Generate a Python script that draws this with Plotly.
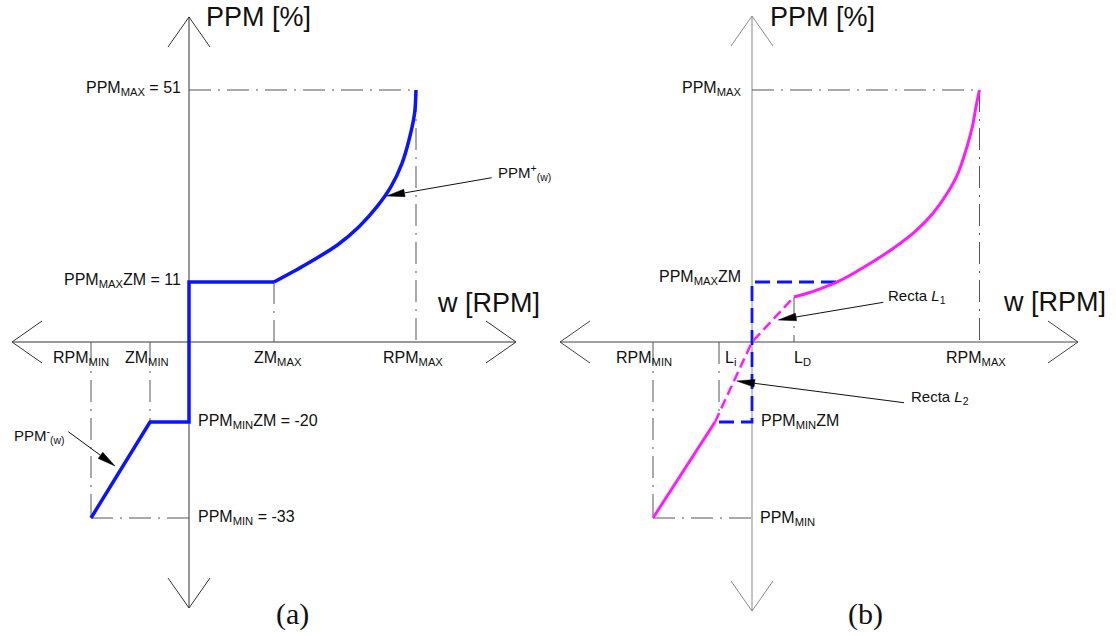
import numpy as np
import plotly.graph_objects as go

# ---------------- schematic values (diagram units, origin = axis crossing) -------------
# Panel (a)
a_speed_names = ["RPM_MIN", "ZM_MIN", "ZM_MAX", "RPM_MAX"]
a_speed_x = [-98, -39, 85, 227]
a_ppm_names = ["PPM_MAX", "PPM_MAXZM", "PPM_MINZM", "PPM_MIN"]
a_ppm_y = [252, 60, -80, -176]
a_curve_x = [85, 116, 148.4, 170, 188, 202, 213, 220, 225.6, 227]
a_curve_y = [60, 77, 97, 115.3, 135.3, 155.3, 178.7, 202, 228.7, 252]
a_axis_x = [-177, 327]
a_axis_y = [-266, 325]

# Panel (b)
b_speed_names = ["RPM_MIN", "L_i", "L_D", "RPM_MAX"]
b_speed_x = [-99, -33, 42, 227.5]
b_ppm_y = [252, 60, -80, -176]
b_curve_x = [42, 55.3, 69.6, 85.8, 112.7, 141.4, 163, 181, 195.2, 206, 215, 220.4, 224, 227.5]
b_curve_y = [45, 48.7, 53.7, 60.3, 75.3, 93.7, 110.3, 128.7, 148.7, 168.7, 195.3, 215.3, 235.3, 252]
b_l2_x = [-37, 0]      # Recta L2 end points
b_l2_y = [-80, 0]
b_l1_x = [0, 42]       # Recta L1 end points
b_l1_y = [0, 45]
b_rect_x = [84, 0, 0, -37]
b_rect_y = [60, 60, -80, -80]
b_axis_x = [-192, 326]
b_axis_y = [-269, 326]

# ---------------- styles ----------------
BLUE = "#0a14ff"
MAGENTA = "#ff1aff"
GUIDE = "#555555"
DASHDOT = "22px,7px,2px,7px"
SANS = "Liberation Sans, Arial, sans-serif"
SERIF = "Liberation Serif, Times New Roman, serif"

fig = go.Figure()


def line(xs, ys, ax, color, width=1.0, dash=None, shape="linear"):
    xa, ya = ax
    fig.add_trace(go.Scatter(x=xs, y=ys, mode="lines", xaxis=xa, yaxis=ya,
                             line=dict(color=color, width=width, dash=dash, shape=shape,
                                       smoothing=0.8), hoverinfo="skip"))


def axis_arrows(axx, axy, ax, colx, coly):
    line(axx, [0, 0], ax, colx, 1)
    line([0, 0], axy, ax, coly, 1)
    L, W = 30, 21
    xs, ys = [], []
    for tip, u in [((axx[0], 0), (-1, 0)), ((axx[1], 0), (1, 0)),
                   ((0, axy[1]), (0, 1)), ((0, axy[0]), (0, -1))]:
        n = (-u[1], u[0])
        bx, by = tip[0] - u[0] * L, tip[1] - u[1] * L
        xs += [bx + n[0] * W, tip[0], bx - n[0] * W, None]
        ys += [by + n[1] * W, tip[1], by - n[1] * W, None]
    line(xs[:8], ys[:8], ax, colx, 1)
    line(xs[8:], ys[8:], ax, coly, 1)


def pointer(tail, tip, ax, head_len=18, half_w=3.8):
    xa, ya = ax
    t = np.array(tail, float)
    p = np.array(tip, float)
    u = (p - t) / np.linalg.norm(p - t)
    n = np.array([-u[1], u[0]])
    base = p - u * head_len
    line([t[0], base[0]], [t[1], base[1]], ax, "#111111", 1)
    tri = [p, base + n * half_w, base - n * half_w, p]
    fig.add_trace(go.Scatter(x=[q[0] for q in tri], y=[q[1] for q in tri], mode="lines",
                             fill="toself", fillcolor="#000000", xaxis=xa, yaxis=ya,
                             line=dict(color="#000000", width=0.5), hoverinfo="skip"))


def label(text, x, y, ax, xanchor="left", size=16, family=SANS):
    xa, ya = ax
    fig.add_annotation(text=text, x=x, y=y, xref=xa, yref=ya, xanchor=xanchor,
                       yanchor="middle", showarrow=False,
                       font=dict(family=family, size=size, color="#111111"))


A = ("x", "y")
B = ("x2", "y2")

# ---------------- panel (a) ----------------
rpm_min, zm_min, zm_max, rpm_max = a_speed_x
p_max, p_maxzm, p_minzm, p_min = a_ppm_y
axis_arrows(a_axis_x, a_axis_y, A, "#333333", "#333333")
line([0, rpm_max], [p_max, p_max], A, GUIDE, 1, DASHDOT)
line([rpm_max, rpm_max], [p_max, 0], A, GUIDE, 1, DASHDOT)
line([zm_max, zm_max], [p_maxzm, 0], A, GUIDE, 1, DASHDOT)
line([rpm_min, rpm_min], [0, p_min], A, GUIDE, 1, DASHDOT)
line([zm_min, zm_min], [0, p_minzm], A, GUIDE, 1, DASHDOT)
line([rpm_min, 0], [p_min, p_min], A, GUIDE, 1, DASHDOT)
line([rpm_min, zm_min, 0, 0, zm_max], [p_min, p_minzm, p_minzm, p_maxzm, p_maxzm], A, BLUE, 3.5)
line(a_curve_x, a_curve_y, A, BLUE, 3.5, shape="spline")
pointer((302.7, 164.3), (197.7, 146), A)
pointer((-120.7, -89.7), (-74, -124), A)

label("PPM [%]", 15, 325, A, size=27)
label("w [RPM]", 246, 39, A, size=27)
label("PPM<sub>MAX</sub> = 51", -6, p_max + 2, A, "right")
label("PPM<sub>MAX</sub>ZM = 11", -6, p_maxzm + 2, A, "right")
label("PPM<sub>MIN</sub>ZM = -20", 7, p_minzm + 1, A)
label("PPM<sub>MIN</sub> = -33", 7, p_min + 1, A)
label("RPM<sub>MIN</sub>", rpm_min - 10, -16, A, "center")
label("ZM<sub>MIN</sub>", zm_min - 3, -16, A, "center")
label("ZM<sub>MAX</sub>", zm_max + 4, -16, A, "center")
label("RPM<sub>MAX</sub>", rpm_max - 3, -16, A, "center")
label("PPM<sup>+</sup><sub>(w)</sub>", 307, 170, A, size=15)
label("PPM<sup>-</sup><sub>(w)</sub>", -177, -93, A, size=15)
label("(a)", 103, -272, A, "center", size=30, family=SERIF)

# ---------------- panel (b) ----------------
brpm_min, l_i, l_d, brpm_max = b_speed_x
q_max, q_maxzm, q_minzm, q_min = b_ppm_y
axis_arrows(b_axis_x, b_axis_y, B, "#444444", "#888888")
line([0, brpm_max], [q_max, q_max], B, GUIDE, 1, DASHDOT)
line([brpm_max, brpm_max], [q_max, 0], B, GUIDE, 1, DASHDOT)
line([l_d, l_d], [b_l1_y[1], 0], B, GUIDE, 1, DASHDOT)
line([l_i, l_i], [0, l_i * (b_l2_y[0] / b_l2_x[0])], B, GUIDE, 1, DASHDOT)
line([brpm_min, brpm_min], [0, q_min], B, GUIDE, 1, DASHDOT)
line([brpm_min, 0], [q_min, q_min], B, GUIDE, 1, DASHDOT)
line(b_rect_x, b_rect_y, B, BLUE, 2.8, dash="15px,7px")
line([brpm_min, b_l2_x[0]], [q_min, b_l2_y[0]], B, MAGENTA, 3)
line(b_l2_x + b_l1_x[1:], b_l2_y + b_l1_y[1:], B, MAGENTA, 2.5, dash="10px,5px")
line(b_curve_x, b_curve_y, B, MAGENTA, 3, shape="spline")
pointer((131.3, 39.7), (26.3, 22), B)
pointer((152, -60.7), (-15.3, -39), B)

label("PPM [%]", 16, 325, B, size=27)
label("w [RPM]", 249, 40, B, size=27)
label("PPM<sub>MAX</sub>", -9, q_max + 2, B, "right")
label("PPM<sub>MAX</sub>ZM", -9, q_maxzm + 5, B, "right")
label("PPM<sub>MIN</sub>ZM", 7, q_minzm + 1, B)
label("PPM<sub>MIN</sub>", 6, q_min, B)
label("RPM<sub>MIN</sub>", brpm_min - 9, -16, B, "center")
label("L<sub>i</sub>", l_i + 4, -16, B)
label("L<sub>D</sub>", l_d - 2, -16, B)
label("RPM<sub>MAX</sub>", brpm_max - 4, -16, B, "center")
label("Recta <i>L</i><sub>1</sub>", 134, 46, B, size=15)
label("Recta <i>L</i><sub>2</sub>", 157, -55, B, size=15)
label("(b)", 113, -272, B, "center", size=30, family=SERIF)

hidden = dict(visible=False, showgrid=False, zeroline=False, fixedrange=True)
fig.update_layout(
    width=1116, height=636, autosize=False,
    margin=dict(l=0, r=0, t=0, b=0),
    paper_bgcolor="white", plot_bgcolor="white", showlegend=False,
    xaxis=dict(domain=[0, 0.5], range=[-189, 369], **hidden),
    yaxis=dict(domain=[0, 1], range=[-294, 342], **hidden),
    xaxis2=dict(domain=[0.5, 1], range=[-194, 364], **hidden),
    yaxis2=dict(domain=[0, 1], range=[-294, 342], anchor="x2", **hidden),
)
fig.write_html("out.html", config={"displayModeBar": False},
               post_script="document.body.style.margin='0';document.body.style.overflow='hidden';")
